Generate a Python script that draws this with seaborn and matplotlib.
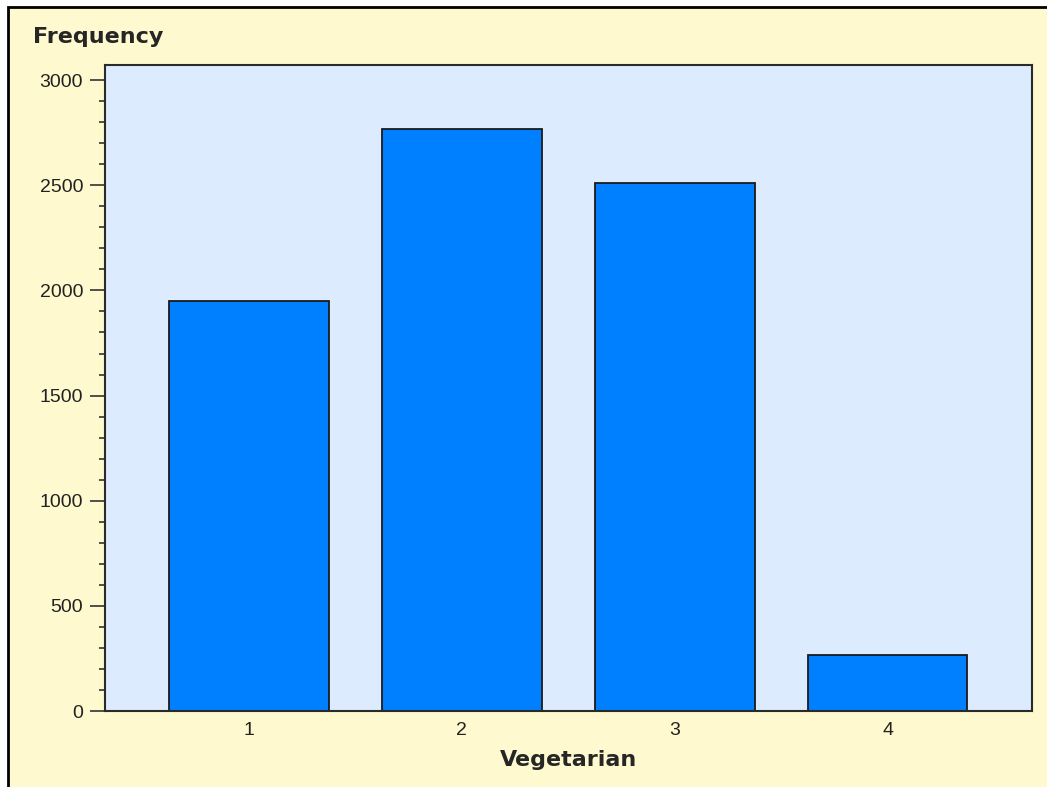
import pandas as pd
import matplotlib
matplotlib.use("Agg")
import matplotlib.pyplot as plt
from matplotlib.patches import Rectangle
from matplotlib.ticker import MultipleLocator
import seaborn as sns

# data
categories = ["1", "2", "3", "4"]
frequency = [1948, 2766, 2509, 266]

df = pd.DataFrame({"Vegetarian": categories, "Frequency": frequency})

sns.set_style("ticks")
plt.rcParams["font.family"] = ["Liberation Sans", "DejaVu Sans"]

fig = plt.figure(figsize=(10.47, 7.87), dpi=100, facecolor="white")

# yellow panel with a black frame on left and top
frame = Rectangle((8 / 1047, -0.5), 2.0, 1.5 - 7 / 787, transform=fig.transFigure,
                  facecolor="#FEF9CE", edgecolor="black", linewidth=2, zorder=-1)
fig.add_artist(frame)

ax = fig.add_axes([105.3 / 1047, 1 - 711 / 787, (1032 - 105.3) / 1047, (711 - 65) / 787])
ax.set_facecolor("#DDEBFE")

sns.barplot(data=df, x="Vegetarian", y="Frequency", color="#0080FF", saturation=1,
            edgecolor="#1a1a1a", linewidth=1.3, width=0.75, ax=ax)

ax.set_xlim(-0.674, 3.678)
ax.set_ylim(0, 3072)
ax.yaxis.set_major_locator(MultipleLocator(500))
ax.yaxis.set_minor_locator(MultipleLocator(100))

for s in ax.spines.values():
    s.set_visible(True)
    s.set_color("#2a2a2a")
    s.set_linewidth(1.5)

ax.tick_params(axis="y", which="major", length=11, width=1.2, color="#333333",
               labelsize=14, labelcolor="#222222", pad=5)
ax.tick_params(axis="y", which="minor", length=4.5, width=1.2, color="#333333")
ax.tick_params(axis="x", length=0, labelsize=14, labelcolor="#222222", pad=8)

ax.set_ylabel("")
ax.set_xlabel("Vegetarian", fontsize=16, fontweight="bold", family="DejaVu Sans",
              labelpad=8)
fig.text(33 / 1047, 1 - 37 / 787, "Frequency", fontsize=16, fontweight="bold",
         family="DejaVu Sans", ha="left", va="center")

fig.savefig("out.png", dpi=100)
